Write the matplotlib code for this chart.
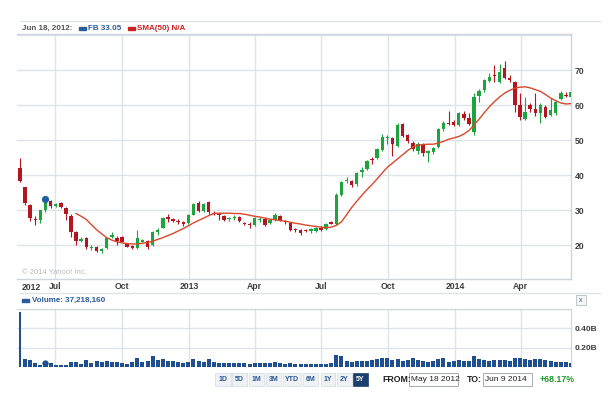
import numpy as np
import pandas as pd
import matplotlib
matplotlib.use('Agg')
import matplotlib.pyplot as plt
import matplotlib.dates as mdates
from matplotlib.patches import Rectangle

plt.rcParams['font.family'] = ['Liberation Sans', 'DejaVu Sans']

# weekly candles, week starting 2012-05-14 -> 2014-06-09
semanas = pd.date_range('2012-05-14', periods=109, freq='7D')

abre = [42.05, 36.5, 31.5, 27.2, 27.2, 30.0, 32.7, 31.2, 31.9, 30.6,
        28.4, 23.8, 21.2, 22.0, 19.1, 19.5, 18.2, 19.2, 22.3, 21.9,
        22.2, 20.3, 19.8, 19.2, 21.0, 21.2, 20.0, 23.7, 25.0, 27.9,
        27.3, 26.9, 26.6, 26.3, 28.7, 32.0, 29.8, 32.2, 29.2, 28.9,
        28.2, 27.4, 27.8, 28.1, 26.4, 26.1, 25.7, 27.2, 27.3, 26.2,
        27.1, 28.4, 26.8, 26.2, 24.6, 24.3, 24.2, 23.9, 24.0, 25.0,
        24.5, 26.5, 26.1, 34.3, 38.2, 38.3, 37.3, 40.9, 41.8, 44.6,
        44.8, 47.2, 50.6, 50.7, 48.3, 54.6, 51.4, 49.2, 46.9, 48.5,
        46.3, 46.5, 48.1, 53.1, 55.0, 55.2, 54.3, 57.4, 56.4, 52.4,
        62.5, 64.3, 66.9, 68.6, 66.7, 70.5, 67.8, 66.7, 60.0, 56.1,
        60.0, 59.0, 57.6, 59.5, 57.1, 57.6, 61.8, 63.0, 62.4]
maximas = [45.0, 36.7, 31.7, 28.3, 30.1, 33.5, 33.0, 32.0, 32.3, 30.8,
           29.0, 24.0, 22.3, 22.2, 19.9, 19.7, 19.2, 22.1, 23.6, 22.5,
           22.6, 20.6, 20.1, 24.3, 21.7, 21.5, 24.0, 24.9, 28.0, 28.8,
           27.8, 27.3, 26.9, 28.9, 32.0, 32.5, 32.0, 32.5, 29.6, 29.2,
           28.5, 28.1, 28.5, 28.3, 26.6, 26.5, 27.9, 28.0, 27.5, 27.3,
           29.2, 28.6, 27.2, 26.4, 25.0, 24.5, 24.6, 24.9, 25.1, 25.3,
           26.3, 26.9, 35.0, 38.3, 39.5, 38.6, 40.8, 42.3, 44.2, 45.2,
           47.6, 51.6, 51.3, 51.0, 54.8, 55.0, 51.8, 49.8, 49.4, 49.1,
           47.2, 48.0, 53.5, 55.4, 58.3, 55.8, 58.0, 58.2, 57.6, 63.4,
           64.6, 67.4, 69.2, 71.3, 71.8, 72.5, 68.6, 67.0, 63.4, 62.4,
           60.5, 63.3, 60.7, 60.0, 62.0, 61.3, 64.0, 63.7, 66.0]
minimas = [38.0, 31.4, 26.9, 25.6, 26.2, 29.5, 30.7, 30.9, 30.6, 27.1,
           22.4, 20.0, 20.8, 19.0, 18.7, 18.1, 17.6, 18.9, 22.0, 20.0,
           20.8, 19.3, 18.8, 19.0, 20.8, 19.0, 19.6, 22.9, 24.8, 26.6,
           26.5, 26.0, 25.5, 26.1, 28.5, 29.3, 29.5, 29.0, 28.5, 27.1,
           26.9, 26.9, 27.2, 26.7, 25.6, 24.9, 25.4, 26.6, 25.5, 25.9,
           26.9, 26.8, 25.9, 23.9, 23.8, 22.9, 23.6, 23.3, 23.6, 24.1,
           24.3, 25.9, 25.8, 34.0, 37.8, 36.5, 37.0, 39.5, 41.5, 43.1,
           44.5, 47.0, 49.0, 45.5, 48.0, 50.8, 49.2, 46.8, 46.1, 45.5,
           43.8, 46.0, 47.8, 52.6, 54.4, 53.9, 54.0, 55.8, 54.2, 51.5,
           60.8, 63.6, 66.5, 66.7, 66.3, 67.3, 66.5, 58.1, 55.7, 55.6,
           57.9, 57.0, 55.0, 56.2, 56.8, 57.2, 61.5, 62.2, 62.2]
fecha = [38.23, 32.0, 27.7, 27.1, 30.0, 33.05, 31.1, 31.7, 30.8, 28.8,
         23.7, 21.1, 21.8, 19.3, 19.4, 18.4, 19.0, 21.9, 22.8, 21.2,
         21.0, 19.5, 19.05, 21.9, 21.4, 19.3, 23.6, 24.2, 27.8, 27.5,
         26.9, 26.5, 26.1, 28.7, 31.8, 29.6, 31.7, 29.3, 29.0, 28.6,
         27.2, 27.8, 28.1, 26.9, 26.0, 25.7, 27.6, 27.4, 25.7, 27.1,
         28.6, 27.0, 26.6, 24.3, 24.4, 23.5, 24.0, 24.6, 24.9, 24.4,
         26.0, 26.1, 34.4, 38.1, 38.6, 37.1, 40.5, 41.3, 43.9, 44.3,
         47.3, 51.0, 50.9, 49.0, 54.3, 51.2, 49.7, 47.3, 49.0, 46.2,
         46.9, 47.8, 53.1, 55.0, 54.7, 54.4, 57.6, 56.3, 54.5, 62.4,
         64.1, 67.1, 68.1, 68.3, 69.3, 67.6, 67.1, 60.0, 56.7, 58.1,
         59.0, 57.6, 60.0, 56.7, 58.6, 61.0, 63.4, 62.6, 63.8]

# SMA(50), starts at week 11
sma50 = [np.nan] * 11 + [
    29.0, 28.2, 27.3, 25.8, 24.4, 23.2, 22.1, 21.4, 20.9, 20.6,
    20.4, 20.3, 20.3, 20.5, 20.7, 21.1, 21.6, 22.1, 22.7, 23.3,
    24.0, 24.7, 25.5, 26.3, 27.0, 27.7, 28.4, 29.0, 29.1, 29.1,
    29.1, 29.0, 29.0, 28.8, 28.5, 28.2, 28.0, 27.7, 27.4, 27.2,
    27.0, 26.8, 26.5, 26.2, 26.0, 25.7, 25.5, 25.3, 25.1, 25.0,
    25.1, 25.6, 26.6, 28.6, 30.7, 32.5, 34.2, 35.8, 37.3, 38.9,
    40.6, 42.2, 43.4, 44.6, 45.8, 47.0, 48.0, 48.5, 48.7, 48.8,
    48.8, 49.1, 49.6, 50.2, 50.6, 51.0, 51.7, 52.7, 54.3, 56.0,
    57.8, 59.5, 61.0, 62.3, 63.4, 64.2, 64.8, 65.1, 65.2, 64.9,
    64.4, 63.9, 63.0, 62.0, 61.2, 60.6, 60.3, 60.4]

# volume (millions)
volume = [573, 86, 73, 38, 25, 37, 41, 16, 16, 16,
          48, 54, 32, 73, 41, 57, 48, 57, 48, 48,
          41, 32, 48, 95, 48, 60, 110, 70, 85, 65,
          60, 50, 40, 55, 85, 60, 55, 85, 50, 45,
          40, 38, 40, 45, 40, 35, 45, 40, 40, 45,
          50, 40, 35, 40, 35, 35, 30, 35, 35, 30,
          35, 40, 125, 110, 60, 55, 65, 60, 65, 75,
          80, 90, 90, 75, 80, 65, 70, 95, 75, 60,
          55, 60, 85, 95, 55, 60, 75, 65, 60, 110,
          85, 70, 65, 75, 70, 70, 60, 90, 95, 85,
          75, 80, 85, 70, 60, 55, 55, 50, 45]

grade_datas = pd.to_datetime(['2012-07-01', '2012-10-01', '2013-01-01', '2013-04-01',
                              '2013-07-01', '2013-10-01', '2014-01-01', '2014-04-01'])
grade_rotulos = ['Jul', 'Oct', '2013', 'Apr', 'Jul', 'Oct', '2014', 'Apr']

W, H = 615, 399
verde = '#1fa33c'
vermelho = '#b5151e'
azul = '#1f4f8f'
cor_grade = '#dde3ea'
cor_texto = '#3d3d3d'

def caixa(px0, py0, px1, py1):
    return [px0 / W, 1 - py1 / H, (px1 - px0) / W, (py1 - py0) / H]

fig = plt.figure(figsize=(W / 100, H / 100), dpi=100)
fig.patch.set_facecolor('white')

x0 = mdates.date2num(semanas[0]) - 4.1
x1 = mdates.date2num(semanas[-1])

# Grafico principal
ax = fig.add_axes(caixa(17, 34, 571, 279))
datas = mdates.date2num(semanas)
o = np.array(abre); c = np.array(fecha)
cores = [verde if fc >= ab else vermelho for ab, fc in zip(abre, fecha)]
ax.vlines(datas, minimas, maximas, colors=cores, linewidth=0.8, zorder=3)
alt = np.maximum(np.abs(c - o), 0.2)
ax.bar(datas, alt, bottom=np.minimum(o, c), width=4.7, color=cores, zorder=4, linewidth=0)
ax.plot(datas, sma50, color='#d9472b', linewidth=1.0, zorder=5)
ax.plot(datas[5], fecha[5], 'o', color='#1f5fa5', markersize=4.2, zorder=6)

ax.set_xlim(x0, x1)
ax.set_ylim(10.29, 80.29)
ax.set_yticks([20, 30, 40, 50, 60, 70, 80])
ax.set_yticklabels(['20', '30', '40', '50', '60', '70', ''])
ax.yaxis.tick_right()
ax.set_xticks(mdates.date2num(grade_datas))
ax.set_xticklabels(grade_rotulos)
ax.tick_params(length=0, labelsize=6.2, labelcolor=cor_texto, pad=2.5)
for t in ax.get_xticklabels() + ax.get_yticklabels():
    t.set_fontweight('bold')
ax.grid(True, color=cor_grade, linewidth=1)
ax.set_axisbelow(True)
ax.spines['left'].set_visible(False)
for lado in ['right', 'bottom', 'top']:
    ax.spines[lado].set_color('#cfd5dc')
    ax.spines[lado].set_linewidth(1)

# Volume
axv = fig.add_axes(caixa(17, 309, 571, 367))
larg = [1.5] + [5.5] * (len(volume) - 1)
axv.bar(datas, np.array(volume) * 1e6, width=larg, color=azul, linewidth=0, zorder=3)
axv.plot(datas[5], volume[5] * 1e6, 'o', color=azul, markersize=3.5, zorder=4)
axv.set_xlim(x0, x1)
axv.set_ylim(0, 0.6e9)
axv.set_yticks([0.2e9, 0.4e9, 0.6e9])
axv.set_yticklabels(['0.20B', '0.40B', ''])
axv.yaxis.tick_right()
axv.set_xticks(mdates.date2num(grade_datas))
axv.set_xticklabels([])
axv.tick_params(length=0, labelsize=6, labelcolor=cor_texto, pad=2.5)
for t in axv.get_yticklabels():
    t.set_fontweight('bold')
axv.grid(True, color=cor_grade, linewidth=1)
axv.set_axisbelow(True)
for lado in ['left', 'bottom']:
    axv.spines[lado].set_visible(False)
for lado in ['right', 'top']:
    axv.spines[lado].set_color('#cfd5dc')

# camada de anotacoes em pixels
ov = fig.add_axes([0, 0, 1, 1], zorder=10)
ov.set_xlim(0, W)
ov.set_ylim(H, 0)
ov.axis('off')

ov.plot([20, 600], [21, 21], color='#dfe3e8', linewidth=1)
ov.text(22, 28, 'Jun 18, 2012:', fontsize=5.8, fontweight='bold', color='#555555', va='center')
ov.add_patch(Rectangle((79, 26.5), 7, 3, color='#2a5b9a'))
ov.text(88, 28, 'FB 33.05', fontsize=5.8, fontweight='bold', color='#2a5b9a', va='center')
ov.add_patch(Rectangle((128, 26.5), 7, 3, color='#cc2222'))
ov.text(137, 28, 'SMA(50) N/A', fontsize=5.8, fontweight='bold', color='#cc2222', va='center')

ov.text(22, 273, '\u00a9 2014 Yahoo! Inc.', fontsize=5.5, color='#b8bcc2', va='center')
ov.text(22, 287, '2012', fontsize=6.2, fontweight='bold', color=cor_texto, va='center')

ov.plot([20, 600], [293, 293], color='#dfe3e8', linewidth=1)
ov.add_patch(Rectangle((22, 298.5), 7, 3, color='#2a5b9a'))
ov.text(32, 300, 'Volume: 37,218,160', fontsize=5.8, fontweight='bold', color='#2a5b9a', va='center')
ov.add_patch(Rectangle((576, 295), 10, 10, facecolor='#f4f5f7', edgecolor='#b8bec6', linewidth=0.6))
ov.text(581, 300.5, 'x', fontsize=5, color='#555555', ha='center', va='center')

# botoes de periodo
botoes = ['1D', '5D', '1M', '3M', 'YTD', '6M', '1Y', '2Y', '5Y']
inicio = [215, 232, 249, 266, 283, 303, 321, 337, 353]
largura = [16, 15, 15, 15, 18, 15, 14, 15, 15]
for b, xi, lg in zip(botoes, inicio, largura):
    sel = b == '5Y'
    ov.add_patch(Rectangle((xi, 373), lg, 12.5, facecolor='#1d3f6e' if sel else '#eef1f5',
                           edgecolor='#1d3f6e' if sel else '#d6dbe2', linewidth=0.5))
    ov.text(xi + lg / 2, 379.5, b, fontsize=5, fontweight='bold',
            color='white' if sel else '#2a5590', ha='center', va='center')

ov.text(382, 379.5, 'FROM:', fontsize=6.3, fontweight='bold', color='#222222', va='center')
ov.add_patch(Rectangle((409, 372.5), 49, 13, facecolor='white', edgecolor='#9aa0a8', linewidth=0.6))
ov.text(411, 379.5, 'May 18 2012', fontsize=6, color='#222222', va='center')
ov.text(467, 379.5, 'TO:', fontsize=6.3, fontweight='bold', color='#222222', va='center')
ov.add_patch(Rectangle((483, 372.5), 49, 13, facecolor='white', edgecolor='#9aa0a8', linewidth=0.6))
ov.text(485, 379.5, 'Jun 9 2014', fontsize=6, color='#222222', va='center')
ov.text(540, 379.5, '+68.17%', fontsize=6.3, fontweight='bold', color='#1f9a2e', va='center')

fig.savefig('out.png', dpi=100)
